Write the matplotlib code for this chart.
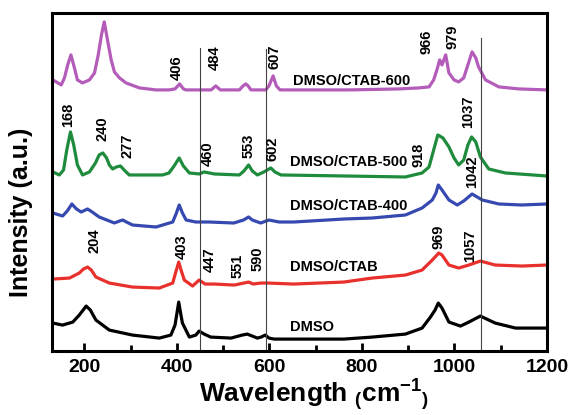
import matplotlib
matplotlib.use('Agg')
import matplotlib.pyplot as plt
from matplotlib.ticker import MultipleLocator

plt.rcParams['font.family'] = ['Liberation Sans', 'DejaVu Sans']
plt.rcParams['font.weight'] = 'bold'
plt.rcParams['mathtext.fontset'] = 'custom'
plt.rcParams['mathtext.rm'] = 'Liberation Sans:bold'
plt.rcParams['mathtext.bf'] = 'Liberation Sans:bold'
plt.rcParams['mathtext.default'] = 'bf'

# spectra (wavenumber, offset intensity in a.u.)
wn_600 = [132, 150, 157, 164, 171, 178, 185, 196, 211, 222, 230, 237, 243, 250, 258, 265, 276, 290,
          319, 355, 383, 396, 406, 414, 420, 448, 474, 484, 494, 502, 535, 543, 549, 554, 560, 592,
          599, 608, 615, 623, 664, 772, 880, 923, 945, 955, 962, 968, 973, 981, 988, 999, 1009, 1020,
          1029, 1038, 1046, 1052, 1067, 1096, 1139, 1199]
int_600 = [271, 266, 273, 286, 296, 284, 271, 268, 271, 278, 296, 316, 329, 311, 291, 279, 273, 268,
           263, 261, 261, 262, 267, 262, 261, 261, 261, 265, 261, 261, 261, 265, 267, 265, 261, 261,
           265, 275, 265, 261, 261, 261, 262, 263, 264, 271, 281, 291, 286, 296, 278, 271, 269, 273,
           286, 299, 293, 284, 271, 264, 262, 261]

wn_500 = [132, 146, 155, 162, 170, 177, 185, 196, 211, 224, 232, 240, 248, 254, 261, 269, 278, 286,
          297, 369, 383, 394, 405, 414, 427, 448, 459, 481, 535, 545, 555, 563, 574, 588, 603, 612,
          625, 761, 894, 930, 945, 955, 964, 975, 988, 999, 1009, 1020, 1029, 1037, 1046, 1056, 1074,
          1110, 1199]
int_500 = [179, 176, 181, 201, 219, 206, 186, 176, 179, 188, 196, 198, 193, 186, 182, 184, 185, 181,
           176, 176, 178, 185, 193, 185, 178, 177, 179, 177, 176, 180, 186, 180, 176, 179, 183, 179,
           176, 175, 174, 178, 184, 201, 216, 213, 204, 193, 186, 191, 206, 214, 209, 194, 182,
           178, 175]

wn_400 = [132, 153, 163, 173, 183, 193, 207, 217, 232, 265, 276, 283, 291, 304, 355, 391, 399, 405,
          412, 420, 441, 470, 523, 544, 555, 563, 581, 599, 621, 653, 761, 822, 894, 930, 952, 960,
          965, 973, 988, 1006, 1020, 1038, 1060, 1096, 1145, 1199]
int_400 = [138, 135, 140, 147, 142, 139, 142, 139, 134, 128, 130, 131, 129, 126, 124, 129, 138, 146,
           138, 131, 129, 129, 128, 131, 134, 131, 128, 131, 129, 129, 132, 133, 136, 143, 151, 158,
           166, 161, 151, 146, 150, 157, 151, 147, 146, 147]

wn_ctab = [132, 168, 189, 198, 207, 215, 225, 254, 304, 362, 391, 397, 404, 409, 416, 434, 448, 461,
           481, 524, 545, 555, 565, 581, 596, 653, 761, 822, 894, 930, 952, 966, 973, 988, 1009, 1031,
           1056, 1088, 1146, 1199]
int_ctab = [72, 73, 78, 82, 84, 81, 74, 68, 64, 63, 68, 78, 89, 81, 71, 65, 71, 67,
            67, 66, 68, 69, 67, 68, 68, 67, 69, 73, 76, 81, 91, 98, 96, 86, 83, 86,
            90, 86, 85, 86]

wn_dmso = [132, 153, 175, 189, 204, 213, 225, 254, 304, 362, 387, 396, 404, 408, 412, 427, 441, 448,
           459, 473, 517, 541, 552, 563, 574, 582, 591, 599, 610, 761, 822, 894, 930, 948, 958, 965,
           973, 988, 1013, 1031, 1056, 1088, 1132, 1199]
int_dmso = [28, 26, 29, 36, 45, 41, 31, 21, 16, 13, 16, 26, 49, 38, 28, 14, 16, 20,
            17, 14, 13, 16, 17, 15, 13, 14, 16, 13, 12, 12, 14, 17, 23, 34, 41, 48,
            43, 29, 25, 29, 35, 28, 23, 23]

series_names = ['DMSO/CTAB-600', 'DMSO/CTAB-500', 'DMSO/CTAB-400', 'DMSO/CTAB', 'DMSO']
series_colors = ['#b45cb9', '#1e8c3c', '#3549b0', '#e8302c', '#000000']
name_pos = [(652, 270), (645, 189), (645, 145), (645, 84), (645, 24)]

# peak labels: (text, wavenumber position, height)
peak_labels = [('406', 399, 283), ('484', 481, 293), ('607', 610, 294), ('966', 940, 309),
               ('979', 995, 314),
               ('168', 164, 236), ('240', 239, 222), ('277', 293, 205), ('460', 466, 197),
               ('553', 556, 205), ('602', 606, 202), ('918', 923, 196), ('1037', 1029, 239),
               ('1042', 1038, 179),
               ('204', 222, 110), ('403', 411, 104), ('447', 470, 91), ('551', 531, 85),
               ('590', 574, 92), ('969', 966, 114), ('1057', 1034, 105)]

guide_x = [449, 592, 1057]
guide_top = [303, 302, 313]

fig = plt.figure(figsize=(5.71, 4.15), dpi=100, facecolor='w')
ax = fig.add_axes([0.091, 0.154, 0.867, 0.815])

wns = [wn_600, wn_500, wn_400, wn_ctab, wn_dmso]
ints = [int_600, int_500, int_400, int_ctab, int_dmso]
for wn, it, c in zip(wns, ints, series_colors):
    ax.plot(wn, it, color=c, lw=2.3, solid_joinstyle='round')

for name, (x, y) in zip(series_names, name_pos):
    ax.text(x, y, name, fontsize=10.5, fontweight='bold', ha='left', va='center')

for txt, x, y in peak_labels:
    ax.text(x, y, txt, fontsize=10.5, fontweight='bold', rotation=90, ha='center', va='center')

for x, top in zip(guide_x, guide_top):
    ax.plot([x, x], [0, top], color='#444444', lw=0.8)

ax.set_xlim(130, 1200)
ax.set_ylim(0, 338)
ax.set_yticks([])
ax.xaxis.set_major_locator(MultipleLocator(200))
ax.xaxis.set_minor_locator(MultipleLocator(100))
ax.tick_params(axis='x', which='major', direction='in', length=6, width=2, labelsize=14, pad=6)
ax.tick_params(axis='x', which='minor', direction='in', length=4, width=2)
for lab in ax.get_xticklabels():
    lab.set_fontweight('bold')
for sp in ax.spines.values():
    sp.set_linewidth(2.2)

ax.set_xlabel(r'Wavelength $_{(}$cm$^{-1}$$_{)}$', fontsize=19, fontweight='bold')
ax.xaxis.label.set_va('baseline')
ax.xaxis.set_label_coords(0.53, -0.152)
ax.set_ylabel('Intensity (a.u.)', fontsize=18, fontweight='bold')
ax.yaxis.label.set_va('center')
ax.yaxis.set_label_coords(-0.062, 0.41)

fig.savefig('out.png', dpi=100)
